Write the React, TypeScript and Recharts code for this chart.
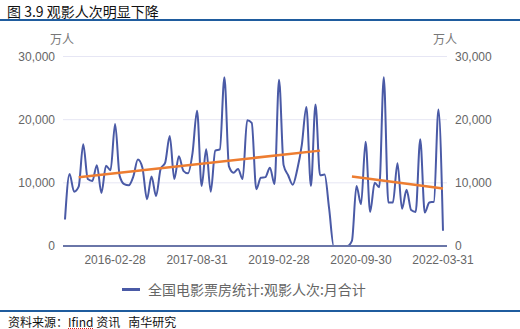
import { CartesianGrid, Line, LineChart, XAxis, YAxis } from "recharts";

// 月度观影人次（万人），2015-03 ~ 2022-03，缺 2020-02
const viewers = [
  4200, 11400, 8600, 9400, 16100, 10600, 10300, 12800, 8400, 12700,
  12000, 19300, 11100, 9800, 9600, 11000, 13700, 12400, 7400, 11000,
  7900, 12200, 13200, 17400, 10600, 14200, 11900, 11500, 14700, 21400,
  9500, 15300, 8600, 15100, 15300, 26700, 12600, 11600, 12200, 10600,
  19900, 19500, 9000, 10800, 10900, 12400, 9800, 26300, 12800, 11200,
  9700, 12100, 16000, 22000, 9500, 22400, 11200, 11300, 5900, 0,
  0, 0, 0, 800, 9500, 6600, 16500, 5400, 10000, 9300,
  26700, 6900, 6900, 13100, 5900, 8900, 5700, 5400, 16900, 5300,
  6900, 7000, 21600, 2400,
];

const tickLabels = ["2016-02-28", "2017-08-31", "2019-02-28", "2020-09-30", "2022-03-31"];
const yTicks = [0, 10000, 20000, 30000];

// 趋势线端点
const trendBefore = { from: "2015-06", fromValue: 10900, to: "2019-11", toValue: 15100 };
const trendAfter = { from: "2020-07", fromValue: 11000, to: "2022-03", toValue: 9100 };

const months: string[] = [];
for (let y = 2015; y <= 2022; y++) {
  for (let m = 1; m <= 12; m++) {
    if (y === 2015 && m < 3) continue;
    if (y === 2022 && m > 3) break;
    if (y === 2020 && m === 2) continue;
    months.push(`${y}-${String(m).padStart(2, "0")}`);
  }
}

const monthEnd = (ym: string) => {
  const [y, m] = ym.split("-").map(Number);
  const d = m === 2 ? 28 : new Date(y, m, 0).getDate();
  return `${ym}-${String(d).padStart(2, "0")}`;
};

const data = months.map((ym, i) => ({
  date: monthEnd(ym),
  value: viewers[i],
  trend1: ym === trendBefore.from ? trendBefore.fromValue : ym === trendBefore.to ? trendBefore.toValue : null,
  trend2: ym === trendAfter.from ? trendAfter.fromValue : ym === trendAfter.to ? trendAfter.toValue : null,
}));

const FONT = '"Liberation Sans", "Noto Sans CJK SC", sans-serif';
const CJK = '"Noto Sans CJK SC", "Liberation Sans", sans-serif';
const tickStyle = { fontSize: 12, fill: "#666666", fontFamily: FONT };
const fmt = (v: number) => v.toLocaleString("en-US");

export default function App() {
  return (
    <div
      style={{
        position: "absolute",
        left: 0,
        top: 0,
        width: 520,
        height: 329,
        background: "#fff",
        overflow: "hidden",
      }}
    >
      <div style={{ position: "absolute", left: 7, top: 1, fontSize: 14, fontFamily: CJK, color: "#111" }}>
        图 3.9 观影人次明显下降
      </div>
      <div style={{ position: "absolute", left: 0, top: 19, width: 520, height: 2, background: "#1f5c9e" }} />

      <div style={{ position: "absolute", left: 50, top: 30, fontSize: 12, fontFamily: CJK, color: "#777" }}>万人</div>
      <div style={{ position: "absolute", left: 433, top: 30, fontSize: 12, fontFamily: CJK, color: "#777" }}>万人</div>

      <div style={{ position: "absolute", left: 0, top: 0 }}>
        <LineChart width={520} height={275} data={data} margin={{ top: 56.5, right: 0, bottom: 0, left: 0 }}>
          <CartesianGrid yAxisId="left" stroke="#e6e6f4" vertical={false} />
          <XAxis
            dataKey="date"
            ticks={tickLabels}
            interval={0}
            height={29}
            tickSize={0}
            tickMargin={9}
            tick={tickStyle}
            axisLine={{ stroke: "#6a76a8", strokeWidth: 2 }}
            padding={{ left: 2, right: 4 }}
          />
          <YAxis
            yAxisId="left"
            orientation="left"
            domain={[0, 30000]}
            ticks={yTicks}
            width={63}
            tickSize={0}
            tickMargin={8}
            tick={tickStyle}
            axisLine={false}
            tickFormatter={fmt}
          />
          <YAxis
            yAxisId="right"
            orientation="right"
            domain={[0, 30000]}
            ticks={yTicks}
            width={73}
            tickSize={0}
            tickMargin={8}
            tick={tickStyle}
            axisLine={false}
            tickFormatter={fmt}
          />
          <Line
            yAxisId="left"
            type="monotone"
            dataKey="value"
            stroke="#4a5aa6"
            strokeWidth={2}
            dot={false}
            isAnimationActive={false}
          />
          <Line
            yAxisId="right"
            type="linear"
            dataKey="trend1"
            stroke="#ed7d31"
            strokeWidth={2.5}
            dot={false}
            connectNulls
            isAnimationActive={false}
          />
          <Line
            yAxisId="right"
            type="linear"
            dataKey="trend2"
            stroke="#ed7d31"
            strokeWidth={2.5}
            dot={false}
            connectNulls
            isAnimationActive={false}
          />
        </LineChart>
      </div>

      <div
        style={{
          position: "absolute",
          left: 122,
          top: 279,
          display: "flex",
          alignItems: "center",
          fontFamily: CJK,
          fontSize: 14,
          color: "#666",
        }}
      >
        <span style={{ display: "inline-block", width: 18, height: 3, background: "#4a5aa6", marginRight: 8 }} />
        全国电影票房统计:观影人次:月合计
      </div>

      <div style={{ position: "absolute", left: 0, top: 310, width: 520, height: 2, background: "#1f5c9e" }} />
      <div style={{ position: "absolute", left: 8, top: 313, fontSize: 12, fontFamily: CJK, color: "#111", whiteSpace: "pre" }}>
        资料来源：
        <span style={{ textDecoration: "underline dotted #e02020" }}>Ifind</span> 资讯{"   "}南华研究
      </div>
    </div>
  );
}
